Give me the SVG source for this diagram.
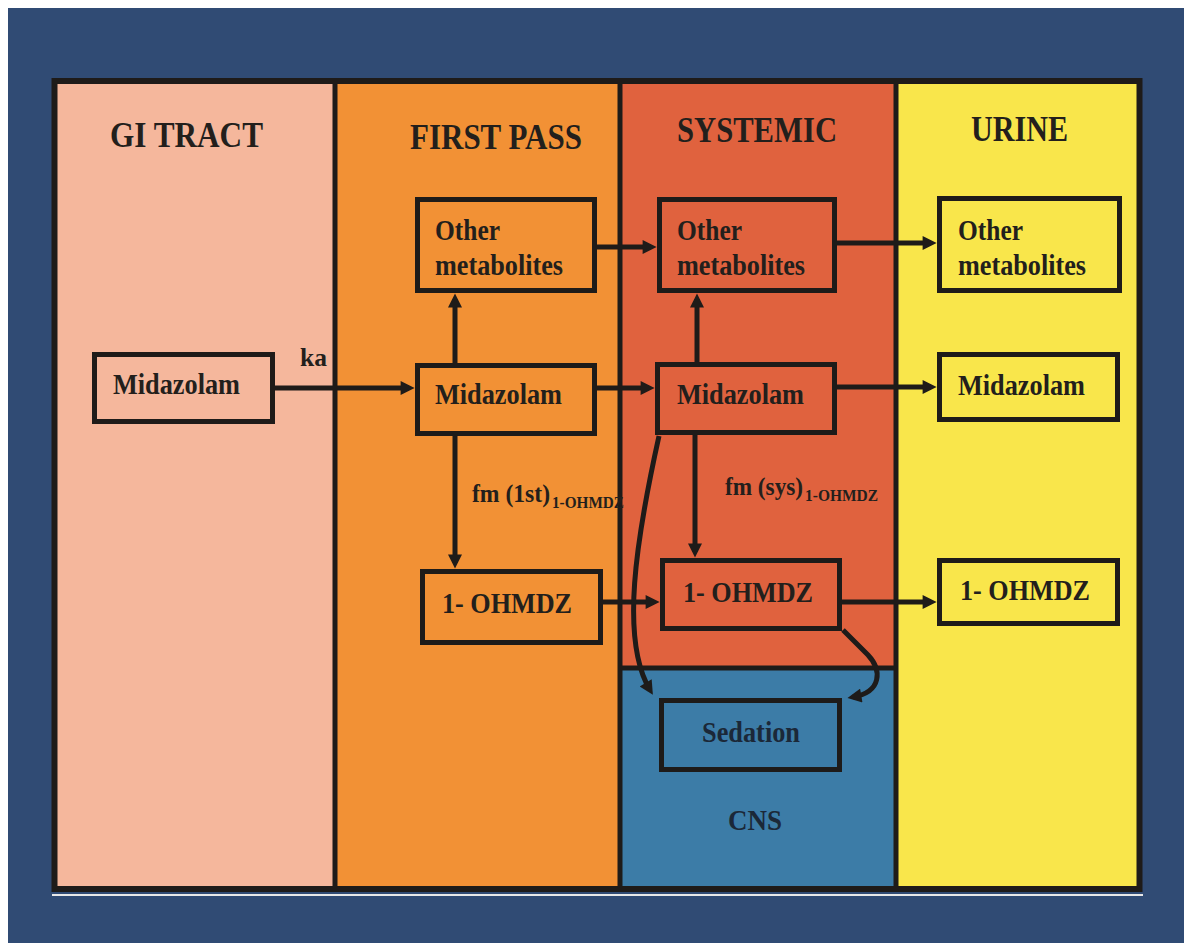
<svg xmlns="http://www.w3.org/2000/svg" width="1184" height="943" viewBox="0 0 1184 943">
<defs>
<marker id="ah" viewBox="0 0 10 10" refX="6" refY="5" markerWidth="16" markerHeight="14" markerUnits="userSpaceOnUse" orient="auto">
<path d="M0,0 L10,5 L0,10 z" fill="#1e1b19"/>
</marker>
<style>
.t{font-family:"Liberation Serif","Times New Roman",serif;font-weight:bold;fill:#231f1c}
.title{font-size:35px}
.lbl{font-size:29px}
.box{fill:none;stroke:#1e1b19;stroke-width:5}
.div{stroke:#1e1b19;stroke-width:5}
.con{fill:none;stroke:#1e1b19;stroke-width:5;marker-end:url(#ah)}
</style>
</defs>
<rect x="0" y="0" width="1184" height="943" fill="#ffffff"/>
<rect x="8" y="8" width="1176" height="935" fill="#304b74"/>
<line x1="52" y1="895" x2="1143" y2="895" stroke="#e8e8e8" stroke-width="2"/>
<g id="lanes">
<rect x="54" y="81" width="281" height="808" fill="#f5b79c"/>
<rect x="335" y="81" width="285" height="808" fill="#f29135"/>
<rect x="620" y="81" width="276" height="587" fill="#e0623e"/>
<rect x="620" y="668" width="276" height="221" fill="#3c7ca7"/>
<rect x="896" y="81" width="244" height="808" fill="#f9e64b"/>
<line class="div" x1="335" y1="81" x2="335" y2="889"/>
<line class="div" x1="620" y1="81" x2="620" y2="889"/>
<line class="div" x1="896" y1="81" x2="896" y2="889"/>
<line class="div" x1="620" y1="668" x2="896" y2="668"/>
<rect x="54.5" y="81" width="1085" height="808" fill="none" stroke="#1e1b19" stroke-width="6"/>
<text class="t title" x="110" y="147" textLength="153" lengthAdjust="spacingAndGlyphs">GI TRACT</text>
<text class="t title" x="410" y="149" textLength="172" lengthAdjust="spacingAndGlyphs">FIRST PASS</text>
<text class="t title" x="677" y="142" textLength="160" lengthAdjust="spacingAndGlyphs">SYSTEMIC</text>
<text class="t title" x="971" y="141" textLength="97" lengthAdjust="spacingAndGlyphs">URINE</text>
<text class="t lbl" x="728" y="830" textLength="54" lengthAdjust="spacingAndGlyphs" style="fill:#1b2838">CNS</text>
</g>
<g id="connectors">
<path class="con" d="M275 388 H409"/>
<path class="con" d="M455 363 V299"/>
<path class="con" d="M455 436 V563"/>
<path class="con" d="M597 247 H651"/>
<path class="con" d="M597 388 H649"/>
<path class="con" d="M603 602 H654"/>
<path class="con" d="M697 362 V299"/>
<path class="con" d="M695 435 V552"/>
<path class="con" d="M837 243 H931"/>
<path class="con" d="M837 387 H931"/>
<path class="con" d="M842 602 H931"/>
<path class="con" d="M659 436 C636 540 620 640 650 690"/>
<path class="con" d="M843 630 L868 655 C882 670 882 692 853 697"/>
<text class="t" x="300" y="366" font-size="26" textLength="27" lengthAdjust="spacingAndGlyphs">ka</text>
<text class="t" x="472" y="502" font-size="25"><tspan textLength="78" lengthAdjust="spacingAndGlyphs">fm (1st)</tspan><tspan font-size="16" dy="6" dx="2" textLength="72" lengthAdjust="spacingAndGlyphs">1-OHMDZ</tspan></text>
<text class="t" x="725" y="495" font-size="25"><tspan textLength="78" lengthAdjust="spacingAndGlyphs">fm (sys)</tspan><tspan font-size="16" dy="6" dx="2" textLength="73" lengthAdjust="spacingAndGlyphs">1-OHMDZ</tspan></text>
</g>
<g id="gi-midazolam">
<rect class="box" x="94.5" y="354.5" width="178" height="67"/>
<text class="t lbl" x="113" y="394" textLength="127" lengthAdjust="spacingAndGlyphs">Midazolam</text>
</g>
<g id="fp-other">
<rect class="box" x="417.5" y="199.5" width="177" height="91"/>
<text class="t lbl" x="435" y="240" textLength="65" lengthAdjust="spacingAndGlyphs">Other</text>
<text class="t lbl" x="435" y="275" textLength="128" lengthAdjust="spacingAndGlyphs">metabolites</text>
</g>
<g id="fp-midazolam">
<rect class="box" x="417.5" y="365.5" width="177" height="68"/>
<text class="t lbl" x="435" y="404" textLength="127" lengthAdjust="spacingAndGlyphs">Midazolam</text>
</g>
<g id="fp-ohmdz">
<rect class="box" x="422.5" y="571.5" width="178" height="71"/>
<text class="t lbl" x="442" y="613" textLength="130" lengthAdjust="spacingAndGlyphs">1- OHMDZ</text>
</g>
<g id="sys-other">
<rect class="box" x="659.5" y="199.5" width="175" height="91"/>
<text class="t lbl" x="677" y="240" textLength="65" lengthAdjust="spacingAndGlyphs">Other</text>
<text class="t lbl" x="677" y="275" textLength="128" lengthAdjust="spacingAndGlyphs">metabolites</text>
</g>
<g id="sys-midazolam">
<rect class="box" x="657.5" y="364.5" width="177" height="68"/>
<text class="t lbl" x="677" y="404" textLength="127" lengthAdjust="spacingAndGlyphs">Midazolam</text>
</g>
<g id="sys-ohmdz">
<rect class="box" x="662.5" y="560.5" width="177" height="68"/>
<text class="t lbl" x="683" y="602" textLength="130" lengthAdjust="spacingAndGlyphs">1- OHMDZ</text>
</g>
<g id="sedation">
<rect class="box" x="661.5" y="700.5" width="178" height="69"/>
<text class="t lbl" x="702" y="742" textLength="98" lengthAdjust="spacingAndGlyphs" style="fill:#1b2838">Sedation</text>
</g>
<g id="urine-other">
<rect class="box" x="939.5" y="198.5" width="180" height="92"/>
<text class="t lbl" x="958" y="240" textLength="65" lengthAdjust="spacingAndGlyphs">Other</text>
<text class="t lbl" x="958" y="275" textLength="128" lengthAdjust="spacingAndGlyphs">metabolites</text>
</g>
<g id="urine-midazolam">
<rect class="box" x="939.5" y="354.5" width="178" height="65"/>
<text class="t lbl" x="958" y="395" textLength="127" lengthAdjust="spacingAndGlyphs">Midazolam</text>
</g>
<g id="urine-ohmdz">
<rect class="box" x="939.5" y="560.5" width="178" height="63"/>
<text class="t lbl" x="960" y="600" textLength="130" lengthAdjust="spacingAndGlyphs">1- OHMDZ</text>
</g>
</svg>
